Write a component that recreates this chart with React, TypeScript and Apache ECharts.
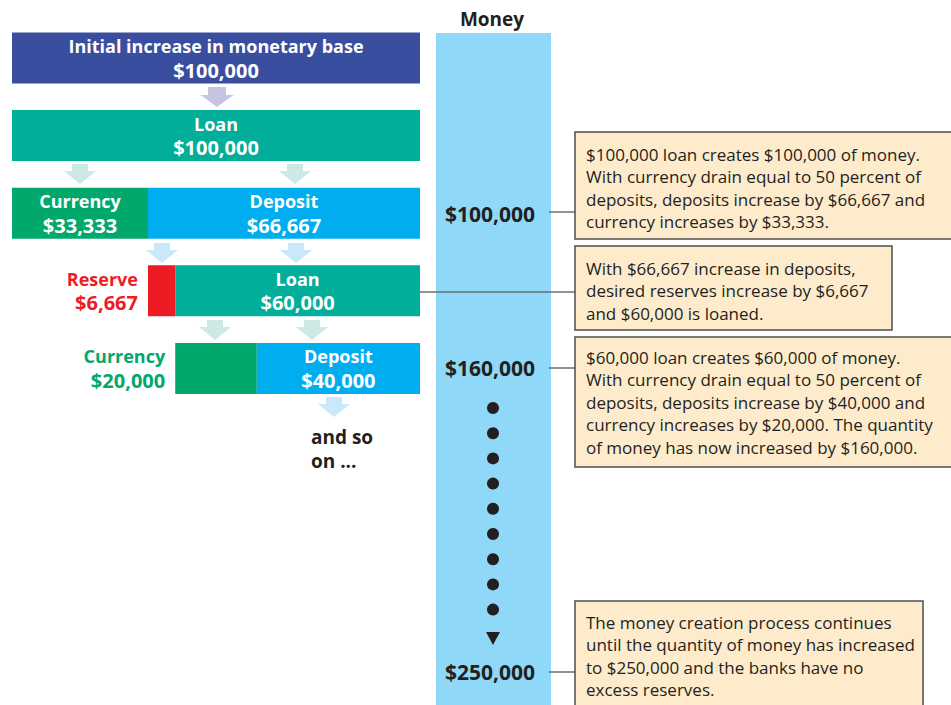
import React, { useEffect, useRef } from 'react';
import * as echarts from 'echarts';

// ---- data ----
const rowKeys = ['base', 'loan1', 'split1', 'split2', 'split3'];
const offsetValues = [0, 0, 0, 33333, 40000];
const firstNames = ['Initial increase in monetary base', 'Loan', 'Currency', 'Reserve', 'Currency'];
const firstKinds = ['base', 'loan', 'currency', 'reserve', 'currency'];
const firstValues = [100000, 100000, 33333, 6667, 20000];
const firstLabelOutside = [false, false, false, true, true];
const secondNames = ['', '', 'Deposit', 'Loan', 'Deposit'];
const secondKinds = ['', '', 'deposit', 'loan', 'deposit'];
const secondValues: (number | null)[] = [null, null, 66667, 60000, 40000];
const moneyLevels = [100000, 160000, 250000];
const continuationDots = 9;
const notes = [
  '$100,000 loan creates $100,000 of money.\nWith currency drain equal to 50 percent of\ndeposits, deposits increase by $66,667 and\ncurrency increases by $33,333.',
  'With $66,667 increase in deposits,\ndesired reserves increase by $6,667\nand $60,000 is loaned.',
  '$60,000 loan creates $60,000 of money.\nWith currency drain equal to 50 percent of\ndeposits, deposits increase by $40,000 and\ncurrency increases by $20,000. The quantity\nof money has now increased by $160,000.',
  'The money creation process continues\nuntil the quantity of money has increased\nto $250,000 and the banks have no\nexcess reserves.',
];

// ---- styles ----
const kindColor: Record<string, string> = {
  base: '#3a4ea0',
  loan: '#00ae9a',
  currency: '#00a96b',
  deposit: '#00aeef',
  reserve: '#ed1c24',
};
const BOLD = '"Open Sans", "DejaVu Sans", sans-serif';
const BODY = '"Open Sans", "DejaVu Sans", sans-serif';
const DARK = '#231f20';
const fmt = (v: number) => '$' + v.toLocaleString('en-US');

function arrow(cx: number, top: number, color: string, sw = 8, hw = 16, sh = 7, hh = 13) {
  return {
    type: 'polygon',
    silent: true,
    shape: {
      points: [
        [cx - sw, top], [cx + sw, top], [cx + sw, top + sh], [cx + hw, top + sh],
        [cx, top + sh + hh], [cx - hw, top + sh], [cx - sw, top + sh],
      ],
    },
    style: { fill: color },
  };
}

export default function App() {
  const ref = useRef<HTMLDivElement>(null);
  useEffect(() => {
    document.body.style.margin = '0';
    const chart = echarts.init(ref.current!, null, { renderer: 'svg' });

    const lavender = '#c6c4e3';
    const tealLight = '#cde9e6';
    const blueLight = '#c9e8f8';

    const noteBoxes = [
      { x: 575, y: 132, w: 400, h: 107, ty: 142.75 },
      { x: 575, y: 246, w: 317, h: 84, ty: 256.75 },
      { x: 575, y: 337, w: 400, h: 130, ty: 345.75 },
      { x: 575, y: 601, w: 348, h: 120, ty: 610.75 },
    ];
    const moneyY = [214, 368, 672];

    const graphics: any[] = [
      { type: 'rect', silent: true, z: -10, shape: { x: 436, y: 33, width: 115, height: 680 }, style: { fill: '#8fd8f7' } },
      { type: 'text', x: 492, y: 19, style: { text: 'Money', font: `bold 19px ${BOLD}`, fill: DARK, textAlign: 'center', textVerticalAlign: 'middle' } },
      arrow(217, 87, lavender, 9, 16.5, 8, 12),
      arrow(80, 164, tealLight),
      arrow(295, 164, tealLight),
      arrow(162, 243, blueLight),
      arrow(296, 243, blueLight),
      arrow(215, 320, tealLight),
      arrow(312, 320, tealLight),
      arrow(334, 397, blueLight),
      { type: 'text', x: 311, y: 437, style: { text: 'and so', font: `bold 19px ${BOLD}`, fill: DARK, textVerticalAlign: 'middle' } },
      { type: 'text', x: 311, y: 461, style: { text: 'on ...', font: `bold 19px ${BOLD}`, fill: DARK, textVerticalAlign: 'middle' } },
      { type: 'line', shape: { x1: 549, y1: 212, x2: 575, y2: 212 }, style: { stroke: '#6d6e71', lineWidth: 1.5 } },
      { type: 'line', shape: { x1: 420, y1: 292, x2: 575, y2: 292 }, style: { stroke: '#6d6e71', lineWidth: 1.5 } },
      { type: 'line', shape: { x1: 549, y1: 368, x2: 575, y2: 368 }, style: { stroke: '#6d6e71', lineWidth: 1.5 } },
      { type: 'line', shape: { x1: 549, y1: 672, x2: 575, y2: 672 }, style: { stroke: '#6d6e71', lineWidth: 1.5 } },
    ];

    moneyLevels.forEach((v, i) => {
      graphics.push({ type: 'text', x: 490, y: moneyY[i], style: { text: fmt(v), font: `bold 21px ${BOLD}`, fill: DARK, textAlign: 'center', textVerticalAlign: 'middle' } });
    });
    for (let i = 0; i < continuationDots; i++) {
      graphics.push({ type: 'circle', silent: true, shape: { cx: 493, cy: 408 + i * 25.2, r: 6 }, style: { fill: DARK } });
    }
    graphics.push({ type: 'polygon', silent: true, shape: { points: [[486, 632], [500, 632], [493, 645]] }, style: { fill: DARK } });

    notes.forEach((t, i) => {
      const b = noteBoxes[i];
      graphics.push({ type: 'rect', silent: true, shape: { x: b.x, y: b.y, width: b.w, height: b.h }, style: { fill: '#fdebcc', stroke: '#4d4d4f', lineWidth: 1.5 } });
      graphics.push({ type: 'text', x: b.x + 11, y: b.ty, style: { text: t, font: `17px ${BODY}`, fill: DARK, lineHeight: 22.5, textVerticalAlign: 'top' } });
    });

    const richFor = (color: string) => ({
      n: { color, fontFamily: BOLD, fontWeight: 'bold', fontSize: 18, lineHeight: 24 },
      v: { color, fontFamily: BOLD, fontWeight: 'bold', fontSize: 20, lineHeight: 24 },
    });

    const insideLabel = (name: string, v: number) => ({
      show: true,
      position: 'inside',
      formatter: `{n|${name}}\n{v|${fmt(v)}}`,
      rich: richFor('#ffffff'),
    });

    chart.setOption({
      animation: false,
      grid: { left: 12, width: 408, top: 19.2, height: 388 },
      xAxis: { type: 'value', min: 0, max: 100000, show: false },
      yAxis: { type: 'category', data: rowKeys, inverse: true, show: false },
      series: [
        {
          type: 'bar', stack: 'row', barWidth: 51, silent: true,
          data: offsetValues,
          itemStyle: { color: 'transparent' },
        },
        {
          type: 'bar', stack: 'row', barWidth: 51, silent: true,
          data: firstValues.map((v, i) => ({
            value: v,
            itemStyle: { color: kindColor[firstKinds[i]] },
            label: firstLabelOutside[i]
              ? {
                  show: true,
                  position: 'left',
                  distance: 10,
                  formatter: `{n|${firstNames[i]}}\n{v|${fmt(v)}}`,
                  rich: richFor(kindColor[firstKinds[i]]),
                }
              : insideLabel(firstNames[i], v),
          })),
        },
        {
          type: 'bar', stack: 'row', barWidth: 51, silent: true,
          data: secondValues.map((v, i) =>
            v == null
              ? '-'
              : {
                  value: v,
                  itemStyle: { color: kindColor[secondKinds[i]] },
                  label: insideLabel(secondNames[i], v),
                }
          ),
        },
      ],
      graphic: graphics,
    });
    return () => chart.dispose();
  }, []);
  return <div ref={ref} style={{ width: 951, height: 705 }} />;
}
